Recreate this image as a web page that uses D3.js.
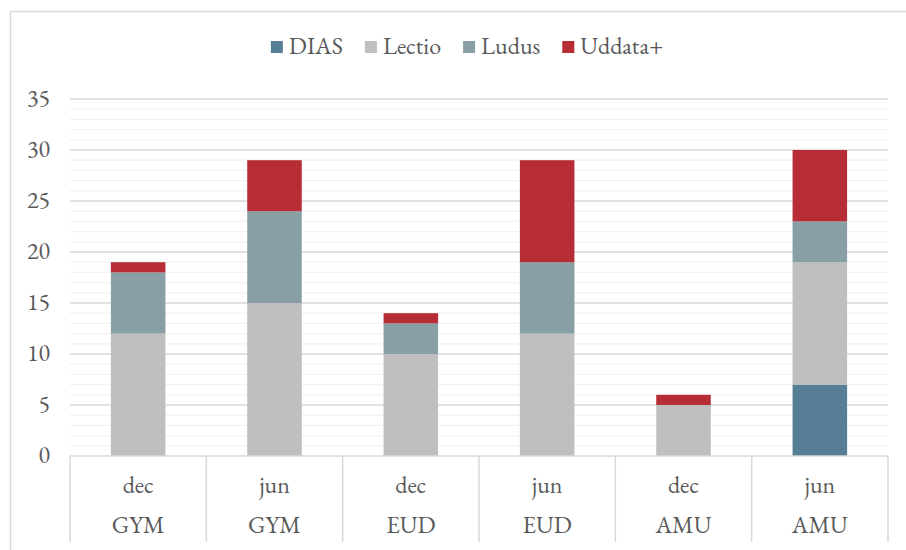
<!doctype html>
<html>
<head>
<meta charset="utf-8"/>
<title>Systemer</title>
<script src="https://d3js.org/d3.v7.min.js"></script>
<style>
  body { margin:0; background:#fff; }
</style>
</head>
<body>
<script>
// categories (two-level axis)
const periods = ['dec', 'jun', 'dec', 'jun', 'dec', 'jun'];
const groups  = ['GYM', 'GYM', 'EUD', 'EUD', 'AMU', 'AMU'];

// series values, bottom to top
const seriesNames = ['DIAS', 'Lectio', 'Ludus', 'Uddata+'];
const dias    = [0, 0, 0, 0, 0, 7];
const lectio  = [12, 15, 10, 12, 5, 12];
const ludus   = [6, 9, 3, 7, 0, 4];
const uddata  = [1, 5, 1, 10, 1, 7];
const colors  = ['#567f96', '#bfbfbf', '#889fa6', '#b72d35'];

const yTicks = [0, 5, 10, 15, 20, 25, 30, 35];

const FONT = '"EB Garamond", "Liberation Serif", serif';
const FS = '24px';
const INK = '#595959';

const W = 906, H = 550;
const svg = d3.select('body').append('svg').attr('width', W).attr('height', H);

// chart frame (runs off the right/bottom edge)
svg.append('rect')
  .attr('x', 10.5).attr('y', 11.5).attr('width', 930).attr('height', 560)
  .attr('fill', 'none').attr('stroke', '#d9d9d9').attr('stroke-width', 1.5);

const pLeft = 70, pRight = 888, pTop = 99, pBottom = 456;

const x = d3.scaleBand().domain(d3.range(periods.length)).range([pLeft, pRight]).paddingInner(0.6).paddingOuter(0.3);
const y = d3.scaleLinear().domain([0, 35]).range([pBottom, pTop]);

function label(sel) {
  return sel.style('font-family', FONT).style('font-size', FS).attr('fill', INK);
}

// minor gridlines
svg.append('g').selectAll('line')
  .data(d3.range(1, 36).filter(v => v % 5 !== 0))
  .join('line')
  .attr('x1', pLeft).attr('x2', pRight)
  .attr('y1', d => y(d)).attr('y2', d => y(d))
  .attr('stroke', '#f2f2f2').attr('stroke-width', 1.3);

// major gridlines
svg.append('g').selectAll('line')
  .data(yTicks.filter(v => v > 0))
  .join('line')
  .attr('x1', pLeft).attr('x2', pRight)
  .attr('y1', d => y(d)).attr('y2', d => y(d))
  .attr('stroke', '#d9d9d9').attr('stroke-width', 1.5);

// y labels
svg.append('g').selectAll('text')
  .data(yTicks)
  .join('text')
  .attr('x', 50).attr('y', d => y(d))
  .attr('dy', '0.3em')
  .attr('text-anchor', 'end')
  .call(label)
  .text(d => d);

// stacked bars
const rows = periods.map((p, i) => ({ i, DIAS: dias[i], Lectio: lectio[i], Ludus: ludus[i], 'Uddata+': uddata[i] }));
const stack = d3.stack().keys(seriesNames)(rows);

svg.append('g').selectAll('g')
  .data(stack)
  .join('g')
  .attr('fill', (d, k) => colors[k])
  .selectAll('rect')
  .data(d => d.filter(s => s[1] > s[0]))
  .join('rect')
  .attr('x', d => x(d.data.i))
  .attr('width', x.bandwidth())
  .attr('y', d => y(d[1]))
  .attr('height', d => y(d[0]) - y(d[1]));

// category axis
const step = (pRight - pLeft) / periods.length;
const axis = svg.append('g');
axis.append('line')
  .attr('x1', pLeft).attr('x2', pRight).attr('y1', pBottom).attr('y2', pBottom)
  .attr('stroke', '#d9d9d9').attr('stroke-width', 1.5);
axis.selectAll('line.sep')
  .data(d3.range(periods.length + 1))
  .join('line')
  .attr('class', 'sep')
  .attr('x1', d => pLeft + d * step).attr('x2', d => pLeft + d * step)
  .attr('y1', pBottom).attr('y2', 542)
  .attr('stroke', '#d9d9d9').attr('stroke-width', 1.5);

axis.selectAll('text.period')
  .data(periods)
  .join('text')
  .attr('class', 'period')
  .attr('x', (d, i) => pLeft + (i + 0.5) * step)
  .attr('y', 486).attr('dy', '0.3em')
  .attr('text-anchor', 'middle')
  .call(label)
  .text(d => d);

axis.selectAll('text.group')
  .data(groups)
  .join('text')
  .attr('class', 'group')
  .attr('x', (d, i) => pLeft + (i + 0.5) * step)
  .attr('y', 526).attr('dy', '0.3em')
  .attr('text-anchor', 'middle')
  .call(label)
  .text(d => d);

// legend, centred on the frame
const legend = svg.append('g');
let lx = 0;
seriesNames.forEach((name, k) => {
  const g = legend.append('g').attr('transform', `translate(${lx},0)`);
  g.append('rect').attr('x', 0).attr('y', -6).attr('width', 12).attr('height', 12).attr('fill', colors[k]);
  const t = g.append('text').attr('x', 18).attr('y', 0).attr('dy', '0.3em')
    .call(label).text(name);
  lx += 18 + t.node().getComputedTextLength() + 22;
});
const lw = lx - 22;
legend.attr('transform', `translate(${467 - lw / 2},47)`);
</script>
</body>
</html>
